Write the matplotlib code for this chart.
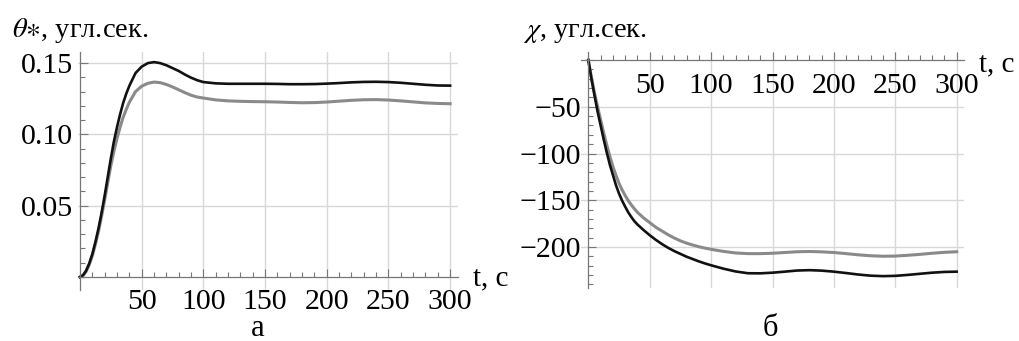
import matplotlib
matplotlib.use("Agg")
import matplotlib.pyplot as plt
from matplotlib.ticker import MultipleLocator, FormatStrFormatter

plt.rcParams["font.family"] = ["Liberation Serif", "DejaVu Serif"]
plt.rcParams["mathtext.fontset"] = "stix"

# time grid, s
t = [0, 2.5, 5, 7.5, 10, 12.5, 15, 17.5, 20, 22.5, 25, 27.5, 30, 32.5, 35, 37.5,
     40, 45, 50, 55, 60, 65, 70, 75, 80, 85, 90, 95,
     100, 110, 120, 130, 140, 150, 160, 170, 180, 190, 200, 210, 220, 230, 240,
     250, 260, 270, 280, 290, 300]

# panel a: theta*, arcsec
theta_black = [0, 0.0012, 0.0045, 0.0095, 0.016, 0.0245, 0.034, 0.045, 0.057, 0.070,
               0.083, 0.095, 0.105, 0.114, 0.122, 0.1285, 0.134, 0.143,
               0.1475, 0.150, 0.1507, 0.150, 0.1485, 0.1465, 0.1445, 0.142, 0.1398,
               0.138, 0.1367, 0.1358, 0.1355, 0.1355, 0.1355, 0.1355, 0.1354,
               0.1352, 0.1352, 0.1353, 0.1356, 0.136, 0.1365, 0.1368, 0.1369,
               0.1367, 0.1362, 0.1355, 0.1348, 0.1343, 0.1342]
theta_gray = [0, 0.001, 0.0038, 0.0085, 0.0148, 0.0228, 0.032, 0.0425, 0.054, 0.066,
              0.078, 0.088, 0.097, 0.105, 0.112, 0.1175, 0.1225, 0.130,
              0.1338, 0.1358, 0.1367, 0.1363, 0.135, 0.1333, 0.1313, 0.1293, 0.1275,
              0.1262, 0.1255, 0.1242, 0.1235, 0.1232, 0.123, 0.1229, 0.1227,
              0.1224, 0.1222, 0.1223, 0.1227, 0.1233, 0.1239, 0.1243, 0.1244,
              0.1241, 0.1235, 0.1228, 0.1221, 0.1217, 0.1215]

# panel b: chi, arcsec
chi_black = [0, -20, -38, -55, -70, -85, -99, -112, -123, -134, -143, -150.5, -157,
             -163, -168, -172.5, -176, -182, -187.5, -192.5,
             -197, -201, -204.5, -207.5, -210.5, -213, -215.5, -217.7, -219.7,
             -223.3, -226.3, -228.2, -228.3, -227.6, -226.5, -225.3, -224.9,
             -225.4, -226.5, -228, -229.6, -230.8, -231.3, -231, -230, -228.8,
             -227.6, -226.8, -226.5]
chi_gray = [0, -18.5, -35, -50, -64, -78, -91, -103, -114, -123.5, -132, -139, -145,
            -150.5, -155, -159.2, -163, -169, -174, -179, -183,
            -187, -190.5, -193.5, -196, -198, -199.8, -201.3, -202.6, -204.8,
            -206.5, -207.2, -207.2, -206.8, -206, -205.2, -204.9, -205.3, -206,
            -207.2, -208.5, -209.5, -210, -209.8, -209, -208, -206.8, -205.8, -205.2]

x_ticks = [50, 100, 150, 200, 250, 300]
theta_ticks = [0.05, 0.10, 0.15]
chi_ticks = [-50, -100, -150, -200]

W, H = 1019, 341
fig = plt.figure(figsize=(W / 100, H / 100), dpi=100)


def px(x, y):
    return x / W, 1 - y / H


def style(ax, ymin_loc):
    for s in ["top", "right"]:
        ax.spines[s].set_visible(False)
    for s in ["left", "bottom"]:
        ax.spines[s].set_position(("data", 0))
        ax.spines[s].set_color("#777777")
        ax.spines[s].set_linewidth(0.9)
    ax.xaxis.set_minor_locator(MultipleLocator(10))
    ax.yaxis.set_minor_locator(MultipleLocator(ymin_loc))
    ax.tick_params(which="both", direction="in", color="#777777", width=0.8,
                   labelsize=21.5)
    ax.tick_params(which="major", length=6)
    ax.tick_params(which="minor", length=3.5)
    ax.tick_params(axis="x", pad=9)
    ax.tick_params(axis="y", pad=5)
    ax.grid(True, which="major", color="#d8d8d8", lw=1.0)
    ax.set_axisbelow(True)
    ax.patch.set_alpha(0)


ax1 = fig.add_axes([77.5 / W, 1 - 289.8 / H, 380 / W, 238.1 / H])
ax1.plot(t, theta_gray, color="#8a8a8a", lw=2.2)
ax1.plot(t, theta_black, color="#111111", lw=1.9)
ax1.set_xlim(-2, 306)
ax1.set_ylim(-0.009, 0.158)
ax1.set_xticks(x_ticks)
ax1.set_yticks(theta_ticks)
ax1.yaxis.set_major_formatter(FormatStrFormatter("%.2f"))
style(ax1, 0.01)

ax2 = fig.add_axes([581 / W, 1 - 288 / H, 383 / W, 236.3 / H])
ax2.plot(t, chi_gray, color="#8a8a8a", lw=2.2)
ax2.plot(t, chi_black, color="#111111", lw=1.9)
ax2.set_xlim(-6, 306)
ax2.set_ylim(-244, 9)
ax2.set_xticks(x_ticks)
ax2.set_yticks(chi_ticks)
style(ax2, 10)

fig.text(*px(11.7, 36.7), r"$\theta{\ast}$, угл.сек.", fontsize=20.5, va="baseline")
fig.text(*px(522.7, 36.7), r"$\chi$, угл.сек.", fontsize=20.5, va="baseline")
fig.text(*px(473, 285), "t, c", fontsize=21, va="baseline")
fig.text(*px(979, 71.7), "t, c", fontsize=21, va="baseline")
fig.text(*px(258, 336), "а", fontsize=22, va="baseline", ha="center")
fig.text(*px(770, 336), "б", fontsize=22, va="baseline", ha="center")

fig.savefig("out.png", dpi=100)
